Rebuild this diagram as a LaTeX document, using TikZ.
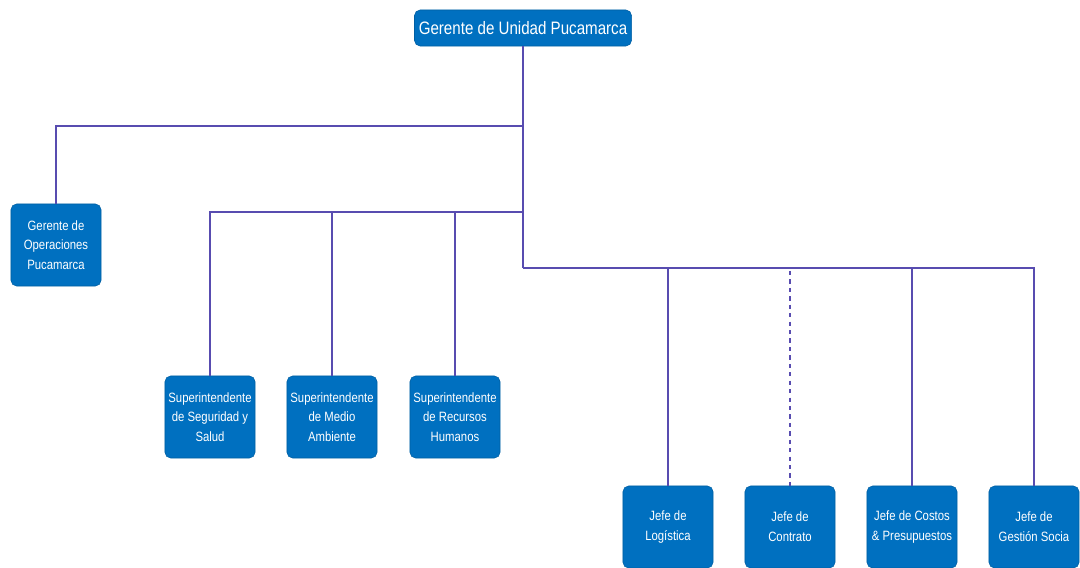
\documentclass[tikz,border=0pt]{standalone}
\usepackage{fontspec}
\setmainfont{Liberation Sans}[FakeStretch=0.84]
\usepackage{tikz}
\usepackage{xcolor}
\usetikzlibrary{positioning}
\definecolor{boxblue}{RGB}{0,112,192}
\definecolor{linkviolet}{RGB}{88,76,176}

\begin{document}
\begin{tikzpicture}[x=0.025cm, y=-0.025cm,
    cargo/.style={draw=boxblue!85!black, fill=boxblue, text=white, rounded corners=4pt,
        align=center, minimum width=2.25cm, minimum height=2.05cm, inner sep=1pt,
        font=\fontsize{9.6}{14}\selectfont},
    enlace/.style={draw=linkviolet, line width=0.9pt}]
    \useasboundingbox (0, 0) rectangle (1080, 567);
    % gerencia
    \node[cargo, minimum width=5.425cm, minimum height=0.9cm, font=\fontsize{12.8}{15}\selectfont]
        (gu) at (523, 28) {Gerente de Unidad Pucamarca};
    \node[cargo] (go) at (56, 245) {Gerente de\\Operaciones\\Pucamarca};
    % superintendencias
    \node[cargo] (ss) at (210, 417) {Superintendente\\de Seguridad y\\Salud};
    \node[cargo] (sm) at (332, 417) {Superintendente\\de Medio\\Ambiente};
    \node[cargo] (sr) at (455, 417) {Superintendente\\de Recursos\\Humanos};
    % jefaturas
    \node[cargo] (jl) at (668, 527) {Jefe de\\Log\'istica};
    \node[cargo] (jc) at (790, 527) {Jefe de\\Contrato};
    \node[cargo] (jp) at (912, 527) {Jefe de Costos\\\& Presupuestos};
    \node[cargo] (jg) at (1034, 527) {Jefe de\\Gesti\'on Socia};
    \coordinate (t1) at (523, 126);
    \coordinate (t2) at (523, 212);
    \coordinate (t3) at (523, 268);
    \draw[enlace] (gu) -- (t3);
    \draw[enlace] (t1) -| (go);
    \draw[enlace]
    (t2) -| (ss) (t2) -| (sm) (t2) -| (sr);
    \draw[enlace, dashed] (t3) -| (jc);
    \draw[enlace]
    (t3) -| (jl) (t3) -| (jp) (t3) -| (jg);
\end{tikzpicture}
\end{document}
